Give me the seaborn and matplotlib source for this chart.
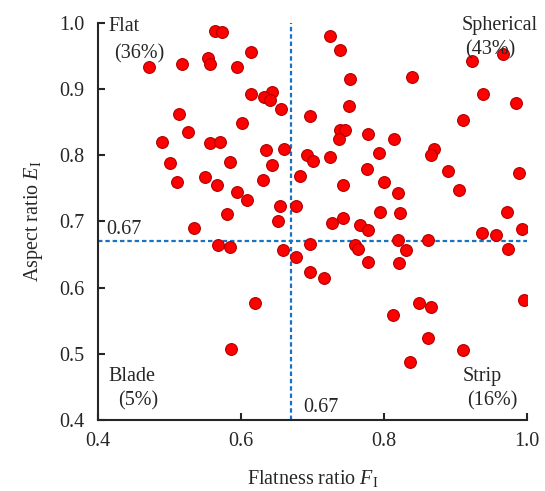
import numpy as np
import pandas as pd
import matplotlib
matplotlib.use("Agg")
import matplotlib.pyplot as plt
import seaborn as sns

# flatness ratio F_I and aspect ratio E_I
flatness = [0.563, 0.574, 0.614, 0.554, 0.471, 0.517, 0.557, 0.595, 0.614, 0.643,
            0.632, 0.641, 0.656, 0.513, 0.697, 0.601, 0.526, 0.490, 0.556, 0.571,
            0.635, 0.660, 0.692, 0.700, 0.501, 0.584, 0.643, 0.683, 0.511, 0.549,
            0.566, 0.631, 0.595, 0.608, 0.655, 0.677, 0.580, 0.651, 0.534, 0.568,
            0.584, 0.658, 0.697, 0.677, 0.697, 0.619, 0.586, 0.725, 0.739, 0.753,
            0.839, 0.923, 0.966, 0.938, 0.985, 0.751, 0.911, 0.738, 0.746, 0.777,
            0.814, 0.737, 0.870, 0.866, 0.793, 0.724, 0.776, 0.890, 0.989, 0.742,
            0.800, 0.819, 0.905, 0.794, 0.822, 0.972, 0.727, 0.743, 0.766, 0.778,
            0.937, 0.957, 0.993, 0.760, 0.764, 0.820, 0.861, 0.831, 0.973, 0.777,
            0.821, 0.716, 0.996, 0.849, 0.865, 0.812, 0.861, 0.910, 0.836]
aspect = [0.988, 0.987, 0.957, 0.947, 0.933, 0.938, 0.938, 0.934, 0.892, 0.896,
          0.888, 0.883, 0.870, 0.863, 0.859, 0.849, 0.836, 0.820, 0.819, 0.820,
          0.808, 0.810, 0.800, 0.792, 0.788, 0.790, 0.785, 0.768, 0.759, 0.767,
          0.755, 0.763, 0.744, 0.732, 0.723, 0.723, 0.711, 0.700, 0.690, 0.664,
          0.661, 0.657, 0.666, 0.646, 0.623, 0.577, 0.507, 0.980, 0.959, 0.916,
          0.918, 0.942, 0.953, 0.892, 0.879, 0.874, 0.854, 0.839, 0.838, 0.832,
          0.824, 0.824, 0.809, 0.800, 0.803, 0.798, 0.780, 0.776, 0.774, 0.755,
          0.759, 0.743, 0.747, 0.714, 0.713, 0.715, 0.698, 0.705, 0.695, 0.687,
          0.682, 0.680, 0.689, 0.664, 0.658, 0.672, 0.672, 0.657, 0.658, 0.639,
          0.637, 0.614, 0.581, 0.577, 0.571, 0.559, 0.524, 0.505, 0.488]

threshold = 0.67
quadrants = ["Flat", "Spherical", "Blade", "Strip"]
shares = ["(36%)", "(43%)", "(5%)", "(16%)"]

df = pd.DataFrame({"F": flatness, "E": aspect})

sns.set_style("ticks")
plt.rcParams["font.family"] = ["Liberation Serif", "DejaVu Serif"]
plt.rcParams["mathtext.fontset"] = "custom"
plt.rcParams["mathtext.rm"] = "Liberation Serif"
plt.rcParams["mathtext.it"] = "Liberation Serif:italic"

fig = plt.figure(figsize=(5.45, 4.91), dpi=100)
ax = fig.add_axes([0.18, 0.145, 0.787, 0.808])

sns.scatterplot(data=df, x="F", y="E", ax=ax, color="#ff0000", edgecolor="#b00000",
                linewidth=0.8, s=72, zorder=3)

blue = "#1a72c2"
ax.axhline(threshold, color=blue, lw=1.6, ls=(0, (2, 1.3)), zorder=2)
ax.axvline(threshold, color=blue, lw=1.6, ls=(0, (2, 1.3)), zorder=2)

fs = 14.5
ax.set_xlim(0.4, 1.0)
ax.set_ylim(0.4, 1.0)
ax.set_xticks(np.arange(0.4, 1.01, 0.2))
ax.set_yticks(np.arange(0.4, 1.01, 0.1))
ax.xaxis.set_major_formatter(matplotlib.ticker.FormatStrFormatter("%.1f"))
ax.yaxis.set_major_formatter(matplotlib.ticker.FormatStrFormatter("%.1f"))
ax.tick_params(direction="in", length=5, width=1.5, labelsize=fs)
ax.tick_params(axis="x", pad=9)
ax.tick_params(axis="y", pad=10)
sns.despine(ax=ax)
for sp in ["left", "bottom"]:
    ax.spines[sp].set_linewidth(1.5)

ax.set_xlabel(r"Flatness ratio $\mathit{F}_{\mathrm{I}}$", fontsize=fs, labelpad=12)
ax.set_ylabel(r"Aspect ratio $\mathit{E}_{\mathrm{I}}$", fontsize=fs, labelpad=10)

ax.text(0.414, 0.988, quadrants[0], fontsize=fs, va="baseline", ha="left")
ax.text(0.422, 0.946, shares[0], fontsize=fs, va="baseline", ha="left")
ax.text(0.909, 0.990, quadrants[1], fontsize=fs, va="baseline", ha="left")
ax.text(0.913, 0.952, shares[1], fontsize=fs, va="baseline", ha="left")
ax.text(0.415, 0.459, quadrants[2], fontsize=fs, va="baseline", ha="left")
ax.text(0.428, 0.421, shares[2], fontsize=fs, va="baseline", ha="left")
ax.text(0.910, 0.459, quadrants[3], fontsize=fs, va="baseline", ha="left")
ax.text(0.916, 0.421, shares[3], fontsize=fs, va="baseline", ha="left")
ax.text(0.411, 0.681, f"{threshold:.2f}", fontsize=fs, va="baseline", ha="left")
ax.text(0.687, 0.412, f"{threshold:.2f}", fontsize=fs, va="baseline", ha="left")

fig.savefig("out.png", dpi=100)
